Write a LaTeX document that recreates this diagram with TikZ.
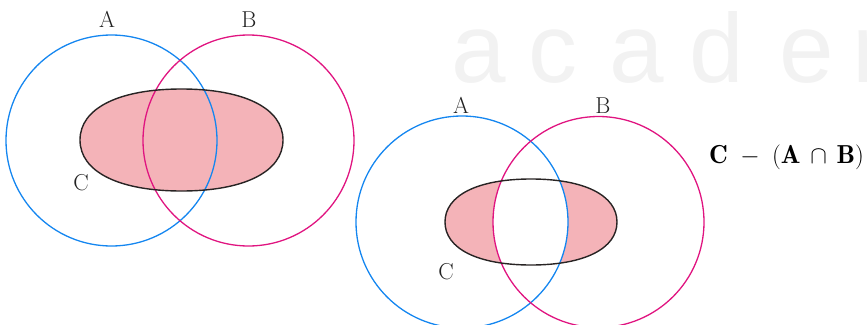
\documentclass[tikz,border=0pt]{standalone}
\usepackage{fontspec}
\newfontfamily\wmfont{Liberation Sans}
\definecolor{setA}{RGB}{20,134,240}
\definecolor{setB}{RGB}{224,20,128}
\definecolor{blobfill}{RGB}{244,179,184}
\definecolor{blobline}{RGB}{40,36,36}
\definecolor{labelcol}{RGB}{34,34,34}
\definecolor{wmcol}{RGB}{242,242,242}
\newcommand\myblob[4]{({#1-#3},{#2}) .. controls ({#1-#3},{#2-0.62*#4}) and ({#1-0.62*#3},{#2-#4}) .. ({#1},{#2-#4}) .. controls ({#1+0.62*#3},{#2-#4}) and ({#1+#3},{#2-0.62*#4}) .. ({#1+#3},{#2}) .. controls ({#1+#3},{#2+0.62*#4}) and ({#1+0.62*#3},{#2+#4}) .. ({#1},{#2+#4}) .. controls ({#1-0.62*#3},{#2+#4}) and ({#1-#3},{#2+0.62*#4}) .. cycle}
\tikzset{
  setAline/.style={draw=setA,line width=1.3pt},
  setBline/.style={draw=setB,line width=1.3pt},
  blobedge/.style={draw=blobline,line width=1.4pt},
  lbl/.style={text=labelcol,font=\fontsize{23}{27}\selectfont,inner sep=0pt},
  wm/.style={text=wmcol,font=\wmfont\fontsize{98}{110}\selectfont,inner sep=0pt,anchor=base west}
}
\begin{document}
\begin{tikzpicture}[x=1pt,y=-1pt]
\useasboundingbox (0,0) rectangle (867,324);
\clip (0,0) rectangle (867,324);
% watermark
\node[wm] (w1) at (451,82) {a};
\node[wm] (w2) at (528,82) {c};
\node[wm] (w3) at (609,82) {a};
\node[wm] (w4) at (689,82) {d};
\node[wm] (w5) at (779,82) {e};
\node[wm] (w6) at (852,82) {r};
% left diagram
\fill[blobfill] \myblob{181.5}{140}{101.5}{51};
\draw[setAline] (111.5,140.5) circle (105.5);
\draw[setBline] (248.5,140.5) circle (105.5);
\draw[blobedge] \myblob{181.5}{140}{101.5}{51};
\node[lbl] (la) at (107,19.5) {A};
\node[lbl] (lb) at (249,19.5) {B};
\node[lbl] (lc) at (81,183) {C};
% right diagram
\fill[blobfill] \myblob{531}{222}{86}{43};
\begin{scope}
  \clip (462,222) circle (106);
  \clip (598.5,222) circle (105.5);
  \fill[white] \myblob{531}{222}{86}{43};
\end{scope}
\draw[setAline] (462,222) circle (106);
\draw[setBline] (598.5,222) circle (105.5);
\draw[blobedge] \myblob{531}{222}{86}{43};
\node[lbl] (ra) at (461,105.5) {A};
\node[lbl] (rb) at (603,105.5) {B};
\node[lbl] (rc) at (446,272) {C};
\node[lbl,text=black,font=\fontsize{26}{30}\selectfont] (formula) at (786.5,157) {$\mathbf{C}\;-\;(\mathbf{A}\,\cap\,\mathbf{B})$};
\end{tikzpicture}
\end{document}
